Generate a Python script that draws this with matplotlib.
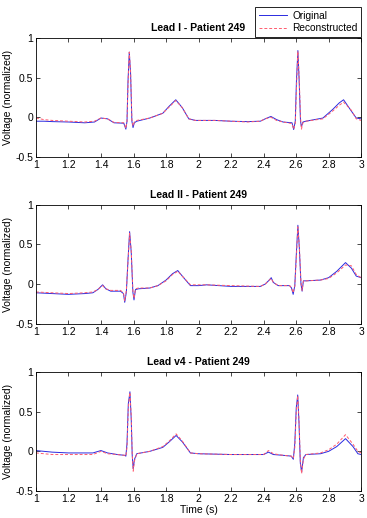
import matplotlib
matplotlib.use('Agg')
import matplotlib.pyplot as plt

plt.rcParams['font.family'] = ['Liberation Sans', 'DejaVu Sans']
plt.rcParams['font.size'] = 7.5

# punkty (czas w s, napiecie znormalizowane)
t_lead1 = [1.00, 1.05, 1.10, 1.20, 1.30, 1.36, 1.40, 1.44, 1.48, 1.54, 1.553, 1.560, 1.566, 1.574,
           1.582, 1.590, 1.597, 1.605, 1.62, 1.70, 1.78, 1.82, 1.86, 1.90, 1.94, 1.98, 2.10, 2.20,
           2.30, 2.38, 2.41, 2.445, 2.48, 2.52, 2.575, 2.585, 2.595, 2.602, 2.611, 2.619, 2.627,
           2.633, 2.642, 2.66, 2.765, 2.826, 2.865, 2.892, 2.939, 2.97, 3.00]
orig_lead1 = [-0.05, -0.05, -0.055, -0.06, -0.07, -0.06, -0.01, -0.02, -0.07, -0.075, -0.15, -0.05,
              0.45, 0.82, 0.55, -0.05, -0.13, -0.07, -0.05, -0.01, 0.05, 0.14, 0.22, 0.12, -0.02,
              -0.04, -0.04, -0.05, -0.055, -0.05, -0.02, 0.01, -0.03, -0.06, -0.07, -0.155, -0.05,
              0.45, 0.84, 0.45, -0.05, -0.12, -0.06, -0.05, -0.01, 0.10, 0.18, 0.22, 0.08, -0.01, -0.02]
rec_lead1 = [-0.01, -0.03, -0.04, -0.05, -0.06, -0.05, -0.01, -0.02, -0.065, -0.07, -0.14, -0.05,
             0.40, 0.82, 0.58, -0.03, -0.11, -0.06, -0.04, -0.01, 0.05, 0.13, 0.21, 0.12, -0.02,
             -0.04, -0.04, -0.05, -0.06, -0.05, -0.02, 0.0, -0.04, -0.06, -0.08, -0.15, -0.08,
             0.35, 0.83, 0.50, 0.0, -0.15, -0.07, -0.05, -0.02, 0.08, 0.15, 0.19, 0.09, -0.02, -0.04]

t_lead2 = [1.00, 1.10, 1.20, 1.30, 1.35, 1.38, 1.41, 1.43, 1.46, 1.52, 1.538, 1.546, 1.556, 1.566,
           1.576, 1.586, 1.596, 1.603, 1.612, 1.63, 1.70, 1.75, 1.80, 1.84, 1.872, 1.90, 1.95, 2.00,
           2.05, 2.20, 2.38, 2.41, 2.43, 2.447, 2.46, 2.49, 2.56, 2.572, 2.582, 2.592, 2.602, 2.611,
           2.620, 2.630, 2.637, 2.645, 2.66, 2.75, 2.80, 2.85, 2.904, 2.94, 2.97, 3.00]
orig_lead2 = [-0.11, -0.12, -0.13, -0.12, -0.11, -0.07, -0.01, -0.06, -0.09, -0.09, -0.12, -0.23,
              -0.10, 0.30, 0.66, 0.40, -0.10, -0.20, -0.07, -0.06, -0.05, -0.02, 0.05, 0.13, 0.17,
              0.10, -0.02, -0.02, -0.01, -0.03, -0.03, 0.0, 0.04, 0.08, 0.02, -0.02, -0.02, -0.05,
              -0.13, -0.02, 0.40, 0.74, 0.45, 0.0, -0.09, 0.04, 0.04, 0.05, 0.08, 0.16, 0.27, 0.20,
              0.10, 0.08]
rec_lead2 = [-0.10, -0.11, -0.12, -0.11, -0.10, -0.07, -0.02, -0.06, -0.08, -0.08, -0.11, -0.21,
             -0.08, 0.28, 0.64, 0.42, -0.08, -0.18, -0.06, -0.05, -0.05, -0.02, 0.04, 0.12, 0.16,
             0.10, -0.01, -0.01, -0.01, -0.02, -0.03, 0.0, 0.04, 0.07, 0.02, -0.02, -0.02, -0.05,
             -0.11, -0.03, 0.35, 0.72, 0.48, 0.02, -0.08, 0.04, 0.04, 0.05, 0.07, 0.14, 0.24, 0.23,
             0.12, 0.08]

t_v4 = [1.00, 1.10, 1.20, 1.30, 1.35, 1.40, 1.44, 1.50, 1.545, 1.553, 1.560, 1.568, 1.578, 1.586,
        1.592, 1.598, 1.606, 1.62, 1.70, 1.78, 1.82, 1.862, 1.90, 1.95, 2.00, 2.20, 2.40, 2.43,
        2.46, 2.52, 2.57, 2.583, 2.592, 2.601, 2.610, 2.618, 2.626, 2.634, 2.645, 2.66, 2.75,
        2.80, 2.85, 2.904, 2.95, 2.98, 3.00]
orig_v4 = [0.01, -0.01, -0.02, -0.02, -0.02, 0.01, -0.02, -0.04, -0.05, -0.06, 0.10, 0.60, 0.75,
           0.40, -0.05, -0.22, -0.10, -0.03, 0.0, 0.05, 0.12, 0.20, 0.12, -0.02, -0.03, -0.04,
           -0.04, -0.01, -0.04, -0.05, -0.06, -0.10, 0.10, 0.55, 0.71, 0.35, -0.15, -0.26, -0.08,
           -0.04, -0.03, 0.0, 0.06, 0.16, 0.06, -0.03, -0.04]
rec_v4 = [-0.02, -0.04, -0.04, -0.04, -0.04, 0.0, -0.03, -0.04, -0.05, -0.06, 0.05, 0.55, 0.74,
          0.45, -0.02, -0.25, -0.12, -0.03, 0.0, 0.06, 0.13, 0.22, 0.13, -0.02, -0.03, -0.04,
          -0.04, 0.01, -0.03, -0.05, -0.06, -0.09, 0.05, 0.50, 0.70, 0.40, -0.12, -0.28, -0.10,
          -0.04, -0.02, 0.02, 0.09, 0.21, 0.09, 0.0, -0.02]

titles = ['Lead I - Patient 249', 'Lead II - Patient 249', 'Lead v4 - Patient 249']
leads = [(t_lead1, orig_lead1, rec_lead1), (t_lead2, orig_lead2, rec_lead2), (t_v4, orig_v4, rec_v4)]
bottoms = [0.697, 0.375, 0.052]

fig = plt.figure(figsize=(3.67, 5.18), dpi=100)

for i in range(3):
    ax = fig.add_axes([0.098, bottoms[i], 0.886, 0.23])
    t, orig, rec = leads[i]
    l1, = ax.plot(t, orig, color='#2a2ae0', lw=0.7, label='Original')
    l2, = ax.plot(t, rec, color='#ff5a6e', lw=0.7, ls=(0, (3, 2)), label='Reconstructed')
    ax.set_xlim(1, 3)
    ax.set_ylim(-0.5, 1)
    ax.set_xticks([1, 1.2, 1.4, 1.6, 1.8, 2, 2.2, 2.4, 2.6, 2.8, 3])
    ax.set_xticklabels(['1', '1.2', '1.4', '1.6', '1.8', '2', '2.2', '2.4', '2.6', '2.8', '3'])
    ax.set_yticks([-0.5, 0, 0.5, 1])
    ax.set_yticklabels(['-0.5', '0', '0.5', '1'])
    ax.tick_params(direction='in', top=True, right=True, length=3, width=0.5, pad=2)
    for s in ax.spines.values():
        s.set_linewidth(0.6)
    ax.set_title(titles[i], fontweight='bold', fontsize=7.5, pad=5)
    ax.set_ylabel('Voltage (normalized)', labelpad=2)
    if i == 2:
        ax.set_xlabel('Time (s)', labelpad=1)

leg = fig.legend([l1, l2], ['Original', 'Reconstructed'], loc='lower right',
                 bbox_to_anchor=(0.984, 0.929), fancybox=False, framealpha=1,
                 edgecolor='black', borderaxespad=0, handlelength=2.8,
                 handletextpad=0.5, borderpad=0.35, labelspacing=0.25, fontsize=7.3)
leg.get_frame().set_linewidth(0.6)

plt.savefig('out.png', dpi=100)
